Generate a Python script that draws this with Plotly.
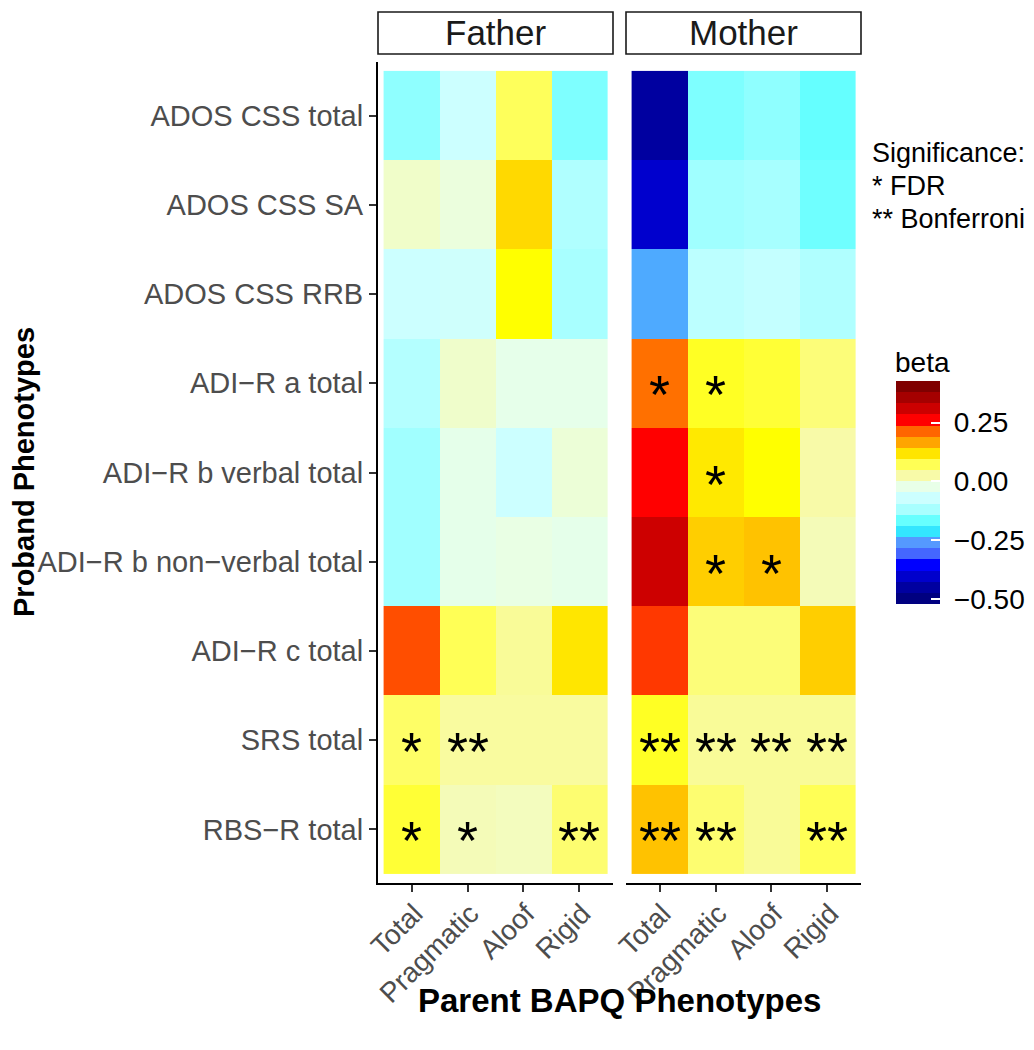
import plotly.graph_objects as go

# ---------------- data ----------------
rows = ["ADOS CSS total", "ADOS CSS SA", "ADOS CSS RRB", "ADI\u2212R a total",
        "ADI\u2212R b verbal total", "ADI\u2212R b non\u2212verbal total",
        "ADI\u2212R c total", "SRS total", "RBS\u2212R total"]
cols = ["Total", "Pragmatic", "Aloof", "Rigid"]
panels = ["Father", "Mother"]

father_beta = [
    [-0.136, -0.071, 0.068, -0.148],
    [0.000, -0.015, 0.128, -0.108],
    [-0.071, -0.065, 0.095, -0.118],
    [-0.102, -0.002, -0.027, -0.027],
    [-0.123, -0.028, -0.071, -0.011],
    [-0.123, -0.028, -0.020, -0.028],
    [0.225, 0.071, 0.033, 0.118],
    [0.062, 0.029, 0.029, 0.029],
    [0.080, 0.012, 0.008, 0.056],
]
mother_beta = [
    [-0.450, -0.148, -0.136, -0.166],
    [-0.402, -0.124, -0.119, -0.159],
    [-0.250, -0.092, -0.081, -0.108],
    [0.206, 0.085, 0.080, 0.051],
    [0.261, 0.115, 0.095, 0.024],
    [0.308, 0.136, 0.145, 0.012],
    [0.235, 0.051, 0.051, 0.136],
    [0.085, 0.033, 0.033, 0.033],
    [0.145, 0.056, 0.033, 0.071],
]
father_sig = [
    ["", "", "", ""], ["", "", "", ""], ["", "", "", ""], ["", "", "", ""],
    ["", "", "", ""], ["", "", "", ""], ["", "", "", ""],
    ["*", "**", "", ""],
    ["*", "*", "", "**"],
]
mother_sig = [
    ["", "", "", ""], ["", "", "", ""], ["", "", "", ""],
    ["*", "*", "", ""],
    ["", "*", "", ""],
    ["", "*", "*", ""],
    ["", "", "", ""],
    ["**", "**", "**", "**"],
    ["**", "**", "", "**"],
]
sig_legend = ["Significance:", "* FDR", "** Bonferroni"]
cb_ticks = [-0.5, -0.25, 0.0, 0.25]
cb_ticktext = ["\u22120.50", "\u22120.25", "0.00", "0.25"]

# ---------------- colour scale ----------------
ZMIN, ZMAX = -0.521, 0.427
legend_colors = ["#000080", "#0000A0", "#0000CC", "#0000FF", "#4466FF",
                 "#5599FF", "#33E6FF", "#66FFFF", "#A8FFFF", "#CCFFFF",
                 "#E8FFE8", "#F8FAA8", "#FFFF55", "#FFE500", "#FFA500",
                 "#FF6600", "#FF0000", "#CC0000", "#A50000", "#7F0000"]
nb = len(legend_colors)
step_scale = []
for i, c in enumerate(legend_colors):
    step_scale.append([i / nb, c])
    step_scale.append([(i + 1) / nb, c])

cont_pts = [(0.0, legend_colors[0])]
for i, c in enumerate(legend_colors):
    cont_pts.append(((i + 0.5) / nb, c))
cont_pts.append(((0.095 - ZMIN) / (ZMAX - ZMIN), "#FFFF00"))
cont_pts.append((1.0, legend_colors[-1]))
cont_pts.sort(key=lambda p: p[0])
cont_scale = [[p, c] for p, c in cont_pts]

# page has an 8px body margin: figure is offset by (8, 8) on screen;
# keep the page inside the window so no scrollbars appear
OFF = 8
W, H = 1018, 1030
def px(x):
    return (x - OFF) / W
def py(y):
    return (H - (y - OFF)) / H

FONT = "Liberation Sans, Arial, Helvetica, sans-serif"
GREY = "#4D4D4D"

fig = go.Figure()
fig.add_trace(go.Heatmap(z=father_beta, x=cols, y=rows, colorscale=cont_scale,
                         zmin=ZMIN, zmax=ZMAX, showscale=False,
                         xaxis="x", yaxis="y", hoverinfo="skip"))
fig.add_trace(go.Heatmap(z=mother_beta, x=cols, y=rows, colorscale=cont_scale,
                         zmin=ZMIN, zmax=ZMAX, showscale=False,
                         xaxis="x2", yaxis="y2", hoverinfo="skip"))

# stepped colour bar legend
cb_top, cb_bot = 381, 604
cb_len = cb_bot - cb_top
fig.add_trace(go.Scatter(
    x=[None], y=[None], mode="markers", xaxis="x", yaxis="y", showlegend=False,
    marker=dict(color=[0], colorscale=step_scale, cmin=ZMIN, cmax=ZMAX,
                showscale=True,
                colorbar=dict(
                    x=px(896), xanchor="left", y=py((cb_top + cb_bot) / 2),
                    yanchor="middle", thickness=44, thicknessmode="pixels",
                    len=cb_len, lenmode="pixels", xpad=0, ypad=0,
                    outlinewidth=0, tickvals=cb_ticks,
                    ticktext=["\u00a0" + t for t in cb_ticktext],
                    ticks="inside", ticklen=9, tickcolor="white", tickwidth=1.5,
                    tickfont=dict(size=28, color="black", family=FONT),
                ))))

annotations = []
# significance stars
for sig, xr, yr in [(father_sig, "x", "y"), (mother_sig, "x2", "y2")]:
    for ri, r in enumerate(rows):
        for ci, c in enumerate(cols):
            if sig[ri][ci]:
                annotations.append(dict(x=c, y=r, xref=xr, yref=yr,
                                        text=sig[ri][ci], showarrow=False,
                                        font=dict(size=54, color="black", family=FONT),
                                        yshift=-11))

panel_x = [(378, 613), (626, 861)]
shapes = []
for (x0, x1), name in zip(panel_x, panels):
    shapes.append(dict(type="rect", xref="paper", yref="paper",
                       x0=px(x0), x1=px(x1), y0=py(54), y1=py(12),
                       line=dict(color="#1A1A1A", width=1.6), fillcolor="white"))
    annotations.append(dict(x=px((x0 + x1) / 2), y=py(33), xref="paper", yref="paper",
                            text=name, showarrow=False, xanchor="center", yanchor="middle",
                            font=dict(size=35, color="#1A1A1A", family=FONT)))

# left-edge white ticks on colour bar
for v in cb_ticks:
    yy = cb_bot - (v - ZMIN) / (ZMAX - ZMIN) * cb_len
    shapes.append(dict(type="line", xref="paper", yref="paper",
                       x0=px(896), x1=px(905), y0=py(yy), y1=py(yy),
                       line=dict(color="white", width=1.5)))

annotations.append(dict(x=px(619.5), y=py(1000), xref="paper", yref="paper",
                        text="<b>Parent BAPQ Phenotypes</b>", showarrow=False,
                        xanchor="center", yanchor="middle",
                        font=dict(size=33, color="black", family=FONT)))
annotations.append(dict(x=px(24), y=py(472), xref="paper", yref="paper",
                        text="<b>Proband Phenotypes</b>", showarrow=False,
                        textangle=-90, xanchor="center", yanchor="middle",
                        font=dict(size=29, color="black", family=FONT)))
for i, line in enumerate(sig_legend):
    annotations.append(dict(x=px(870), y=py(153 + 33 * i), xref="paper", yref="paper",
                            text=line, showarrow=False, xanchor="left", yanchor="middle",
                            align="left", font=dict(size=27, color="black", family=FONT)))
annotations.append(dict(x=px(893), y=py(362), xref="paper", yref="paper",
                        text="beta", showarrow=False, xanchor="left", yanchor="middle",
                        font=dict(size=28, color="black", family=FONT)))

ydom = [py(883), py(62)]
common_x = dict(type="category", categoryorder="array", categoryarray=cols,
                range=[-0.6, 3.6], showgrid=False, zeroline=False, automargin=False,
                showline=True, linecolor="black", linewidth=2,
                ticks="outside", ticklen=7, tickwidth=1.6, tickcolor="#333333",
                tickangle=-45, ticklabelstandoff=-6, ticklabelshift=3,
                tickfont=dict(size=28, color=GREY, family=FONT))
fig.update_layout(
    width=W, height=H, margin=dict(l=0, r=0, t=0, b=0, autoexpand=False),
    paper_bgcolor="white", plot_bgcolor="white", showlegend=False,
    font=dict(family=FONT),
    xaxis=dict(domain=[px(378), px(613)], anchor="y", **common_x),
    xaxis2=dict(domain=[px(626), px(861)], anchor="y2", **common_x),
    yaxis=dict(domain=ydom, anchor="x", type="category", categoryorder="array",
               categoryarray=rows, range=[8.6, -0.6], showgrid=False, zeroline=False,
               automargin=False,
               showline=True, linecolor="black", linewidth=2,
               ticks="outside", ticklen=7, tickwidth=1.6, tickcolor="#333333",
               tickfont=dict(size=29, color=GREY, family=FONT)),
    yaxis2=dict(domain=ydom, anchor="x2", type="category", categoryorder="array",
                categoryarray=rows, range=[8.6, -0.6], showgrid=False, zeroline=False,
                automargin=False,
                showline=False, showticklabels=False, ticks=""),
    annotations=annotations, shapes=shapes,
)

fig.write_html("out.html")
